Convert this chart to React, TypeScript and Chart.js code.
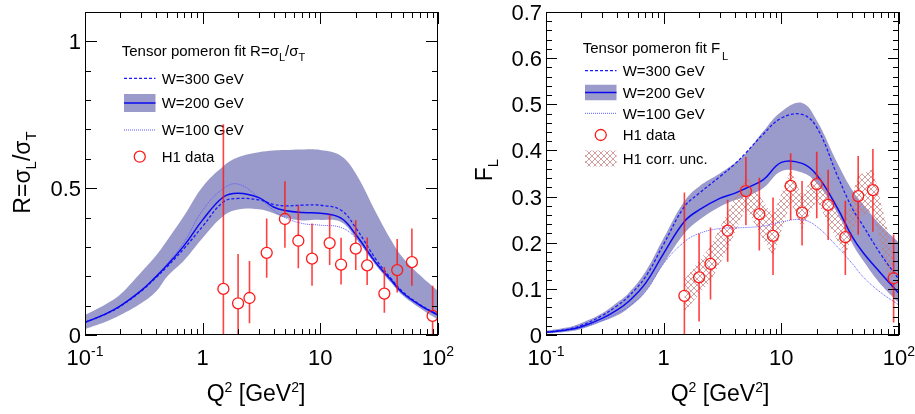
import React, { useEffect, useRef } from "react";
import { Chart, registerables } from "chart.js";

Chart.register(...registerables);

const FONT = '"Liberation Sans", Arial, Helvetica, sans-serif';

// ---------- data ----------
const Q2_GRID = [0.1, 0.15, 0.2, 0.3, 0.4, 0.5, 0.7, 1, 1.5, 2, 3, 4, 5, 7, 10, 15, 20, 30, 40, 50, 70, 100];

// Left panel: R = sigma_L / sigma_T
const R_BAND_UP = [0.068, 0.105, 0.139, 0.214, 0.27, 0.323, 0.408, 0.505, 0.575, 0.605, 0.622, 0.628, 0.63, 0.632, 0.63, 0.61, 0.55, 0.414, 0.323, 0.265, 0.204, 0.15];
const R_BAND_LO = [0.02, 0.045, 0.068, 0.108, 0.147, 0.199, 0.255, 0.33, 0.405, 0.427, 0.428, 0.415, 0.4, 0.39, 0.392, 0.385, 0.33, 0.235, 0.178, 0.135, 0.092, 0.052];
const R_W200 = [0.043, 0.072, 0.099, 0.151, 0.198, 0.238, 0.306, 0.392, 0.47, 0.483, 0.468, 0.436, 0.424, 0.417, 0.415, 0.398, 0.342, 0.244, 0.187, 0.144, 0.102, 0.068];
const R_W300 = [0.043, 0.071, 0.098, 0.149, 0.195, 0.233, 0.296, 0.37, 0.453, 0.465, 0.46, 0.445, 0.44, 0.442, 0.442, 0.425, 0.365, 0.255, 0.192, 0.148, 0.104, 0.069];
const R_W100 = [0.043, 0.073, 0.1, 0.153, 0.201, 0.243, 0.318, 0.425, 0.499, 0.514, 0.468, 0.425, 0.4, 0.38, 0.374, 0.366, 0.33, 0.238, 0.181, 0.14, 0.099, 0.066];

// H1 data
const H1_Q2 = [1.5, 2, 2.5, 3.5, 5, 6.5, 8.5, 12, 15, 20, 25, 35, 45, 60, 90];
const H1_R = [0.157, 0.108, 0.126, 0.28, 0.395, 0.321, 0.26, 0.313, 0.24, 0.294, 0.237, 0.141, 0.221, 0.248, 0.065];
const H1_R_ERR_UP = [0.561, 0.168, 0.126, 0.117, 0.129, 0.121, 0.12, 0.097, 0.091, 0.097, 0.095, 0.091, 0.106, 0.115, 0.103];
const H1_R_ERR_DN = [0.56, 0.17, 0.086, 0.085, 0.098, 0.094, 0.092, 0.075, 0.068, 0.073, 0.067, 0.065, 0.076, 0.08, 0.1];

// Right panel: F_L
const F_BAND_UP = [0.009, 0.016, 0.026, 0.047, 0.07, 0.09, 0.137, 0.21, 0.29, 0.322, 0.35, 0.372, 0.394, 0.441, 0.484, 0.503, 0.465, 0.372, 0.314, 0.282, 0.238, 0.2];
const F_BAND_LO = [0.003, 0.007, 0.013, 0.029, 0.042, 0.058, 0.094, 0.155, 0.22, 0.249, 0.278, 0.292, 0.3, 0.318, 0.355, 0.352, 0.329, 0.264, 0.199, 0.16, 0.11, 0.069];
const F_W200 = [0.006, 0.011, 0.018, 0.036, 0.054, 0.072, 0.112, 0.177, 0.246, 0.271, 0.296, 0.307, 0.318, 0.336, 0.374, 0.372, 0.347, 0.275, 0.213, 0.177, 0.134, 0.09];
const F_W300 = [0.006, 0.012, 0.021, 0.042, 0.063, 0.083, 0.126, 0.197, 0.278, 0.307, 0.343, 0.37, 0.395, 0.435, 0.47, 0.478, 0.45, 0.345, 0.275, 0.235, 0.175, 0.12];
const F_W100 = [0.005, 0.01, 0.016, 0.031, 0.047, 0.061, 0.094, 0.155, 0.202, 0.22, 0.231, 0.232, 0.233, 0.236, 0.245, 0.25, 0.235, 0.191, 0.155, 0.125, 0.092, 0.065];

const H1_F = [0.085, 0.125, 0.154, 0.226, 0.312, 0.262, 0.215, 0.323, 0.265, 0.327, 0.282, 0.212, 0.301, 0.314, 0.123];
const H1_F_ERR_UP = [0.224, 0.095, 0.079, 0.067, 0.074, 0.079, 0.083, 0.071, 0.069, 0.07, 0.076, 0.079, 0.087, 0.089, 0.095];
const H1_F_ERR_DN = [0.22, 0.096, 0.077, 0.067, 0.074, 0.079, 0.085, 0.074, 0.071, 0.074, 0.076, 0.082, 0.084, 0.09, 0.096];
const H1_F_CORR = [0.035, 0.036, 0.038, 0.04, 0.036, 0.04, 0.045, 0.035, 0.035, 0.035, 0.04, 0.04, 0.045, 0.045, 0.05];

// axis ticks
const X_MAJOR = [0.1, 1, 10, 100];
const X_LABEL_BASE = ["10", "1", "10", "10"];
const X_LABEL_EXP = ["-1", "", "", "2"];
const R_Y_MAJOR = [0, 0.5, 1];
const R_Y_LABELS = ["0", "0.5", "1"];
const F_Y_MAJOR = [0, 0.1, 0.2, 0.3, 0.4, 0.5, 0.6, 0.7];
const F_Y_LABELS = ["0", "0.1", "0.2", "0.3", "0.4", "0.5", "0.6", "0.7"];

// ---------- styles ----------
const BAND_COLOR = "#9a9acb";
const SOLID_COLOR = "#0a0af0";
const DASH_COLOR = "#1a1aff";
const DOT_COLOR = "#5a5aff";
const RED = "#ff1a1a";
const ERR_RED = "rgba(255,20,20,0.8)";
const MARKER_R = 5.5;
const TENSION = 0.4;

type Seg = { t: string; s: number; dy?: number };

function richWidth(ctx: CanvasRenderingContext2D, segs: Seg[]) {
  let w = 0;
  for (const g of segs) {
    ctx.font = `${g.s}px ${FONT}`;
    w += ctx.measureText(g.t).width;
  }
  return w;
}

function drawRich(ctx: CanvasRenderingContext2D, segs: Seg[], x: number, y: number, align: "left" | "center" | "right") {
  const w = richWidth(ctx, segs);
  let cx = align === "left" ? x : align === "center" ? x - w / 2 : x - w;
  ctx.textAlign = "left";
  ctx.textBaseline = "alphabetic";
  for (const g of segs) {
    ctx.font = `${g.s}px ${FONT}`;
    ctx.fillText(g.t, cx, y + (g.dy || 0));
    cx += ctx.measureText(g.t).width;
  }
}

const xy = (xs: number[], ys: number[]) => xs.map((x, i) => ({ x, y: ys[i] }));

function makeHatch(): CanvasPattern | string {
  const c = document.createElement("canvas");
  c.width = 6;
  c.height = 6;
  const g = c.getContext("2d");
  if (!g) return "rgba(200,140,140,0.5)";
  g.strokeStyle = "rgba(195,125,125,0.75)";
  g.lineWidth = 1;
  g.beginPath();
  g.moveTo(0, 0);
  g.lineTo(6, 6);
  g.moveTo(6, 0);
  g.lineTo(0, 6);
  g.stroke();
  return g.createPattern(c, "repeat") || "rgba(200,140,140,0.5)";
}

type LegendRow = { kind: "dash" | "band" | "dot" | "marker" | "hatch"; label: string; y: number };

interface PanelCfg {
  width: number;
  pad: { left: number; top: number; right: number; bottom: number };
  yMax: number;
  yMajor: number[];
  yLabels: string[];
  yMinorStep: number;
  yMajorLen: number;
  yMinorLen: number;
  yTitle: Seg[];
  yTitleX: number;
  yTitleY: number;
  xTitleX: number;
  bandUp: number[];
  bandLo: number[];
  w300: number[];
  w200: number[];
  w100: number[];
  dataY: number[];
  errUp: number[];
  errDn: number[];
  corr?: number[];
  header: Seg[];
  headerX: number;
  headerY: number;
  legX0: number;
  legX1: number;
  legTextX: number;
  bandH: number;
  rows: LegendRow[];
}

const LEFT: PanelCfg = {
  width: 460,
  pad: { left: 85, top: 12, right: 22, bottom: 79 },
  yMax: 1.1,
  yMajor: R_Y_MAJOR,
  yLabels: R_Y_LABELS,
  yMinorStep: 0.1,
  yMajorLen: 12,
  yMinorLen: 6,
  yTitle: [
    { t: "R=σ", s: 23 },
    { t: "L", s: 15, dy: 6 },
    { t: "/σ", s: 23 },
    { t: "T", s: 15, dy: 6 },
  ],
  yTitleX: 29.5,
  yTitleY: 172.5,
  xTitleX: 256,
  bandUp: R_BAND_UP,
  bandLo: R_BAND_LO,
  w300: R_W300,
  w200: R_W200,
  w100: R_W100,
  dataY: H1_R,
  errUp: H1_R_ERR_UP,
  errDn: H1_R_ERR_DN,
  header: [
    { t: "Tensor pomeron fit R=σ", s: 15 },
    { t: "L", s: 11, dy: 5 },
    { t: "/σ", s: 15 },
    { t: "T", s: 11, dy: 5 },
  ],
  headerX: 121.7,
  headerY: 56,
  legX0: 124,
  legX1: 155.5,
  legTextX: 161.7,
  bandH: 18,
  rows: [
    { kind: "dash", label: "W=300 GeV", y: 78.3 },
    { kind: "band", label: "W=200 GeV", y: 103 },
    { kind: "dot", label: "W=100 GeV", y: 130 },
    { kind: "marker", label: "H1 data", y: 156.7 },
  ],
};

const RIGHT: PanelCfg = {
  width: 455,
  pad: { left: 86, top: 12, right: 16, bottom: 79 },
  yMax: 0.7,
  yMajor: F_Y_MAJOR,
  yLabels: F_Y_LABELS,
  yMinorStep: 0.02,
  yMajorLen: 11,
  yMinorLen: 6,
  yTitle: [
    { t: "F", s: 23 },
    { t: "L", s: 15, dy: 6 },
  ],
  yTitleX: 31.7,
  yTitleY: 170,
  xTitleX: 260,
  bandUp: F_BAND_UP,
  bandLo: F_BAND_LO,
  w300: F_W300,
  w200: F_W200,
  w100: F_W100,
  dataY: H1_F,
  errUp: H1_F_ERR_UP,
  errDn: H1_F_ERR_DN,
  corr: H1_F_CORR,
  header: [
    { t: "Tensor pomeron fit F", s: 15 },
    { t: " ", s: 6 },
    { t: "L", s: 11, dy: 7 },
  ],
  headerX: 122.7,
  headerY: 52.7,
  legX0: 125,
  legX1: 156.5,
  legTextX: 162.7,
  bandH: 15.5,
  rows: [
    { kind: "dash", label: "W=300 GeV", y: 70.7 },
    { kind: "band", label: "W=200 GeV", y: 92.5 },
    { kind: "dot", label: "W=100 GeV", y: 113.3 },
    { kind: "marker", label: "H1 data", y: 135 },
    { kind: "hatch", label: "H1 corr. unc.", y: 158.5 },
  ],
};

function makePlugin(cfg: PanelCfg, hatch: CanvasPattern | string) {
  return {
    id: "panelDecor",
    beforeDatasetsDraw(chart: any) {
      const ctx: CanvasRenderingContext2D = chart.ctx;
      ctx.save();
      ctx.fillStyle = "#000";
      drawRich(ctx, cfg.header, cfg.headerX, cfg.headerY, "left");
      for (const row of cfg.rows) {
        const y = row.y;
        const x0 = cfg.legX0;
        const x1 = cfg.legX1;
        if (row.kind === "dash" || row.kind === "dot") {
          ctx.strokeStyle = row.kind === "dash" ? DASH_COLOR : DOT_COLOR;
          ctx.lineWidth = row.kind === "dash" ? 1.3 : 1;
          ctx.setLineDash(row.kind === "dash" ? [3, 2] : [1, 1]);
          ctx.beginPath();
          ctx.moveTo(x0, y);
          ctx.lineTo(x1, y);
          ctx.stroke();
          ctx.setLineDash([]);
        } else if (row.kind === "band") {
          ctx.fillStyle = BAND_COLOR;
          ctx.fillRect(x0, y - cfg.bandH / 2, x1 - x0, cfg.bandH);
          ctx.strokeStyle = SOLID_COLOR;
          ctx.lineWidth = 1.5;
          ctx.beginPath();
          ctx.moveTo(x0, y);
          ctx.lineTo(x1, y);
          ctx.stroke();
        } else if (row.kind === "marker") {
          ctx.strokeStyle = RED;
          ctx.lineWidth = 1.3;
          ctx.beginPath();
          ctx.arc((x0 + x1) / 2, y, MARKER_R, 0, Math.PI * 2);
          ctx.stroke();
        } else if (row.kind === "hatch") {
          ctx.fillStyle = hatch as any;
          ctx.fillRect(x0, y - 8, x1 - x0, 16);
        }
        ctx.fillStyle = "#000";
        drawRich(ctx, [{ t: row.label, s: 15 }], cfg.legTextX, y + 5.4, "left");
      }
      ctx.restore();
    },
    afterDatasetsDraw(chart: any) {
      const ctx: CanvasRenderingContext2D = chart.ctx;
      const xs = chart.scales.x;
      const ys = chart.scales.y;
      const ca = chart.chartArea;
      ctx.save();
      ctx.beginPath();
      ctx.rect(ca.left, ca.top, ca.right - ca.left, ca.bottom - ca.top);
      ctx.clip();
      ctx.strokeStyle = ERR_RED;
      ctx.lineWidth = 1.6;
      H1_Q2.forEach((q, i) => {
        const v = cfg.dataY[i];
        const px = xs.getPixelForValue(q);
        const py = ys.getPixelForValue(v);
        const top = ys.getPixelForValue(v + cfg.errUp[i]);
        const bot = ys.getPixelForValue(v - cfg.errDn[i]);
        ctx.beginPath();
        if (py - MARKER_R > top) {
          ctx.moveTo(px, py - MARKER_R);
          ctx.lineTo(px, top);
        }
        if (py + MARKER_R < bot) {
          ctx.moveTo(px, py + MARKER_R);
          ctx.lineTo(px, bot);
        }
        ctx.stroke();
      });
      ctx.restore();
    },
    afterDraw(chart: any) {
      const ctx: CanvasRenderingContext2D = chart.ctx;
      const xs = chart.scales.x;
      const ys = chart.scales.y;
      const ca = chart.chartArea;
      ctx.save();
      ctx.strokeStyle = "#000";
      ctx.lineWidth = 1;
      ctx.strokeRect(ca.left + 0.5, ca.top + 0.5, ca.right - ca.left - 1, ca.bottom - ca.top - 1);
      // x ticks
      const tick = (px: number, len: number) => {
        const x = Math.round(px) + 0.5;
        ctx.beginPath();
        ctx.moveTo(x, ca.bottom);
        ctx.lineTo(x, ca.bottom - len);
        ctx.moveTo(x, ca.top);
        ctx.lineTo(x, ca.top + len);
        ctx.stroke();
      };
      for (let d = -1; d <= 1; d++) {
        for (let k = 2; k <= 9; k++) tick(xs.getPixelForValue(k * Math.pow(10, d)), 6);
      }
      for (const v of X_MAJOR) tick(xs.getPixelForValue(v), 12);
      // y ticks
      const ytick = (py: number, len: number) => {
        const y = Math.round(py) + 0.5;
        ctx.beginPath();
        ctx.moveTo(ca.left, y);
        ctx.lineTo(ca.left + len, y);
        ctx.moveTo(ca.right, y);
        ctx.lineTo(ca.right - len, y);
        ctx.stroke();
      };
      const n = Math.round(cfg.yMax / cfg.yMinorStep);
      for (let i = 0; i <= n; i++) ytick(ys.getPixelForValue(i * cfg.yMinorStep), cfg.yMinorLen);
      for (const v of cfg.yMajor) ytick(ys.getPixelForValue(v), cfg.yMajorLen);

      ctx.fillStyle = "#000";
      // y labels
      cfg.yMajor.forEach((v, i) => {
        drawRich(ctx, [{ t: cfg.yLabels[i], s: 22 }], ca.left - 4, ys.getPixelForValue(v) + 8, "right");
      });
      // x labels
      X_MAJOR.forEach((v, i) => {
        const segs: Seg[] = [{ t: X_LABEL_BASE[i], s: 22 }];
        if (X_LABEL_EXP[i]) segs.push({ t: X_LABEL_EXP[i], s: 14, dy: -9 });
        drawRich(ctx, segs, xs.getPixelForValue(v), ca.bottom + 30, "center");
      });
      // x title
      drawRich(
        ctx,
        [
          { t: "Q", s: 23 },
          { t: "2", s: 14, dy: -9 },
          { t: " [GeV", s: 23 },
          { t: "2", s: 14, dy: -9 },
          { t: "]", s: 23 },
        ],
        cfg.xTitleX,
        401,
        "center"
      );
      // y title
      ctx.save();
      ctx.translate(cfg.yTitleX, cfg.yTitleY);
      ctx.rotate(-Math.PI / 2);
      drawRich(ctx, cfg.yTitle, 0, 0, "center");
      ctx.restore();
      ctx.restore();
    },
  };
}

function buildConfig(cfg: PanelCfg, hatch: CanvasPattern | string): any {
  const curve = { pointRadius: 0, tension: TENSION };
  const datasets: any[] = [
    { label: "band up", data: xy(Q2_GRID, cfg.bandUp), fill: 1, backgroundColor: BAND_COLOR, borderWidth: 0, order: 10, ...curve },
    { label: "band lo", data: xy(Q2_GRID, cfg.bandLo), fill: false, borderWidth: 0, order: 10, ...curve },
    { label: "W=300 GeV", data: xy(Q2_GRID, cfg.w300), borderColor: DASH_COLOR, borderWidth: 1.3, borderDash: [3, 2], fill: false, order: 3, ...curve },
    { label: "W=200 GeV", data: xy(Q2_GRID, cfg.w200), borderColor: SOLID_COLOR, borderWidth: 1.5, fill: false, order: 2, ...curve },
    { label: "W=100 GeV", data: xy(Q2_GRID, cfg.w100), borderColor: DOT_COLOR, borderWidth: 1, borderDash: [1, 1], fill: false, order: 4, ...curve },
    {
      label: "H1 data",
      data: xy(H1_Q2, cfg.dataY),
      showLine: false,
      pointRadius: MARKER_R,
      pointStyle: "circle",
      pointBorderColor: RED,
      pointBackgroundColor: "rgba(0,0,0,0)",
      pointBorderWidth: 1.3,
      order: 0,
    },
  ];
  if (cfg.corr) {
    const corr = cfg.corr;
    datasets.push(
      {
        label: "corr up",
        data: xy(H1_Q2, cfg.dataY.map((v, i) => v + corr[i])),
        fill: 7,
        backgroundColor: hatch,
        borderWidth: 0,
        pointRadius: 0,
        tension: 0,
        order: 6,
      },
      {
        label: "corr lo",
        data: xy(H1_Q2, cfg.dataY.map((v, i) => v - corr[i])),
        fill: false,
        borderWidth: 0,
        pointRadius: 0,
        tension: 0,
        order: 6,
      }
    );
  }
  return {
    type: "line",
    data: { datasets },
    options: {
      animation: false,
      responsive: false,
      devicePixelRatio: 1,
      layout: { padding: cfg.pad },
      plugins: { legend: { display: false }, tooltip: { enabled: false } },
      events: [],
      scales: {
        x: { type: "logarithmic", min: 0.1, max: 100, display: false },
        y: { type: "linear", min: 0, max: cfg.yMax, display: false },
      },
    },
    plugins: [makePlugin(cfg, hatch)],
  };
}

function Panel({ cfg, left }: { cfg: PanelCfg; left: number }) {
  const ref = useRef<HTMLCanvasElement>(null);
  useEffect(() => {
    if (!ref.current) return;
    const hatch = makeHatch();
    const chart = new Chart(ref.current, buildConfig(cfg, hatch));
    return () => chart.destroy();
  }, [cfg]);
  return (
    <canvas
      ref={ref}
      width={cfg.width}
      height={414}
      style={{ position: "absolute", left, top: 0, width: cfg.width, height: 414 }}
    />
  );
}

export default function App() {
  return (
    <div style={{ position: "fixed", left: 0, top: 0, width: 915, height: 414, background: "#fff" }}>
      <Panel cfg={LEFT} left={0} />
      <Panel cfg={RIGHT} left={460} />
    </div>
  );
}
